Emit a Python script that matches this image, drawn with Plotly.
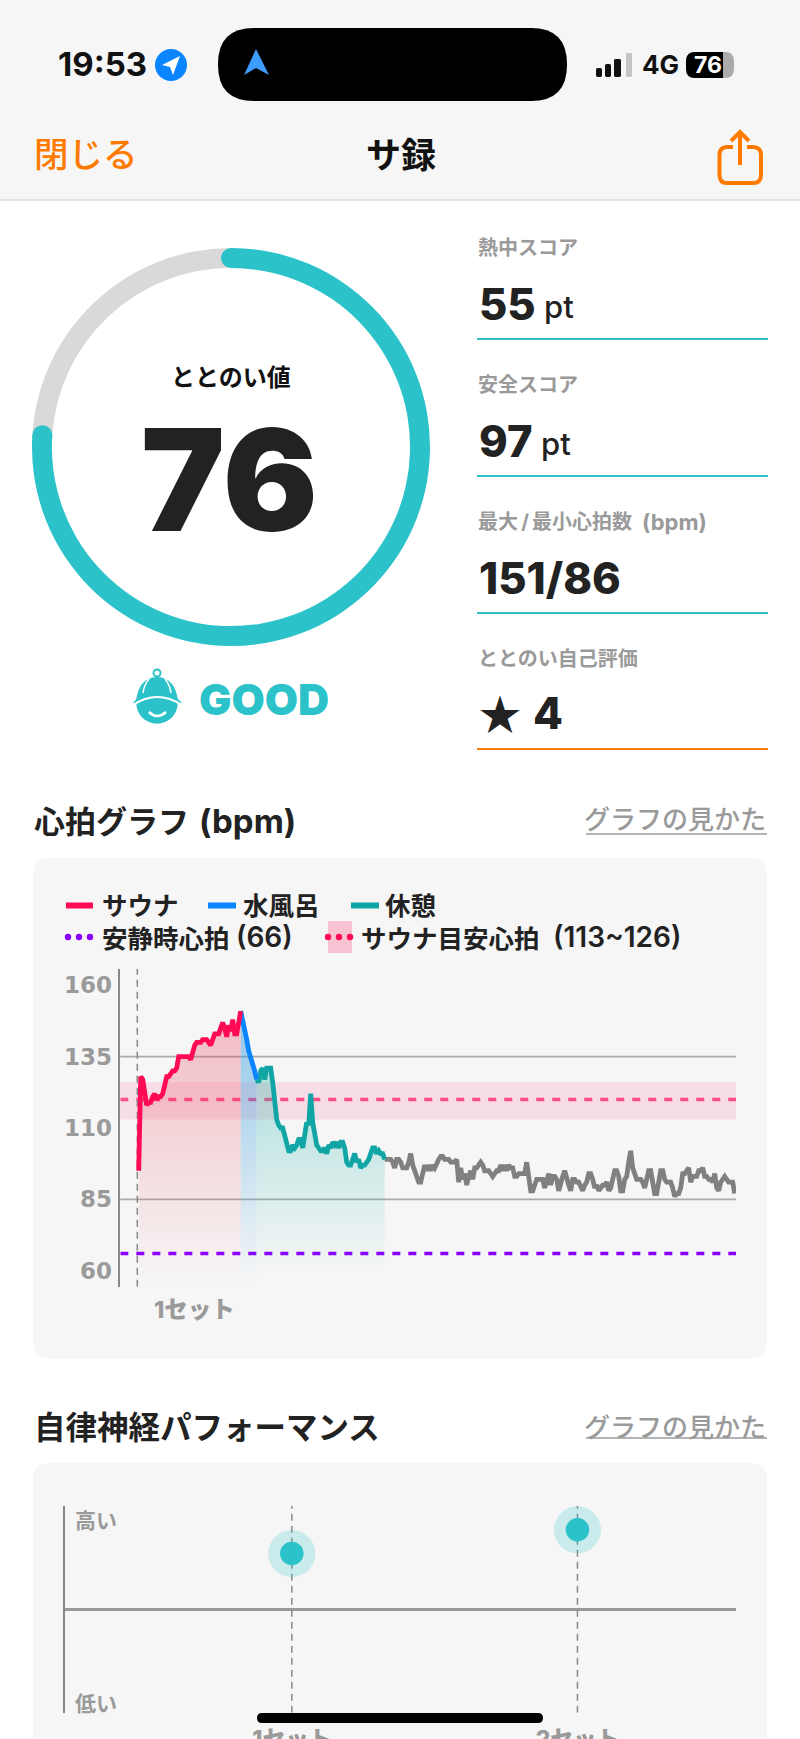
# サ録 screen: gauge, score list, heart-rate graph, autonomic nerve graph
import math
import plotly.graph_objects as go

W, H = 800, 1739
FONT = "Inter, 'Noto Sans CJK JP'"
TEAL = "#2BC2C9"
ORANGE = "#FF7A00"
DARK = "#222222"
GREY = "#9A9A9A"

# gauge
score = 76
score_rest = 24

# heart rate, one value per sample (bpm)
hr_sauna = [95, 128, 127, 122, 118, 119, 119, 121, 122, 120, 121, 121, 122, 125, 128, 128, 129, 130,
            130, 131, 135, 135, 135, 135, 135, 135, 134, 137, 139, 140, 140, 140, 141, 141, 141, 140,
            139, 141, 143, 143, 143, 145, 147, 145, 142, 146, 144, 148, 143, 143, 147, 151]
hr_bath = [151, 148, 144, 141, 137, 135, 133, 130, 127]
hr_rest = [127, 126, 130, 131, 127, 131, 131, 131, 126, 118, 113, 111, 110, 110, 107, 104, 102, 102,
           104, 103, 104, 106, 106, 103, 108, 112, 111, 122, 112, 108, 104, 103, 102, 102, 103, 101,
           104, 103, 105, 104, 105, 103, 105, 105, 103, 98, 97, 97, 99, 101, 98, 99, 96, 97, 97, 98,
           99, 101, 103, 103, 101, 102, 101, 101, 99]
hr_after = [99, 99, 99, 99, 98, 96, 99, 99, 98, 96, 96, 96, 98, 101, 97, 95, 93, 91, 91, 95, 97, 95,
            97, 95, 97, 96, 98, 99, 100, 100, 99, 99, 99, 98, 98, 98, 99, 91, 96, 92, 94, 90, 93, 95,
            92, 96, 96, 97, 98, 97, 95, 95, 95, 94, 93, 94, 95, 95, 97, 95, 97, 95, 97, 96, 96, 93,
            93, 94, 94, 94, 94, 98, 94, 88, 88, 90, 92, 92, 92, 92, 89, 92, 94, 90, 93, 93, 92, 88,
            91, 93, 95, 92, 90, 88, 92, 92, 91, 91, 89, 88, 90, 91, 94, 94, 92, 89, 90, 88, 89, 90,
            90, 91, 88, 89, 92, 95, 95, 93, 88, 88, 92, 93, 98, 102, 96, 94, 92, 92, 92, 91, 89, 92,
            95, 95, 91, 87, 87, 92, 95, 95, 92, 91, 91, 91, 89, 86, 87, 87, 89, 94, 94, 95, 96, 91,
            93, 93, 93, 95, 95, 96, 93, 93, 92, 92, 91, 94, 89, 88, 91, 92, 93, 92, 91, 91, 91, 87]
hr_ticks = [60, 85, 110, 135, 160]
hr_grid = [85, 135]
hr_resting = 66
hr_target = [113, 126]
hr_target_mid = 120
hr_set_start = [-0.7]
hr_set_names = ["1セット"]

# autonomic performance
ans_sets = [1, 2]
ans_names = ["1セット", "2セット"]
ans_values = [0.54, 0.77]

# right-hand list
score_rows = [("熱中スコア", "55", "pt"), ("安全スコア", "97", "pt"), ("最大\u2009/\u2009最小心拍数", "151/86", "")]


def px(x):
    return x / W


def py(y):
    return 1 - y / H


def pth(points, close=True):
    s = "M" + " L".join(f"{px(x):.5f},{py(y):.5f}" for x, y in points)
    return s + (" Z" if close else "")


def rrect(x0, y0, x1, y1, r):
    a, b = r / W, r / H
    l, t, rr, bt = px(x0), py(y0), px(x1), py(y1)
    return (f"M{l + a:.5f},{t:.5f} L{rr - a:.5f},{t:.5f} Q{rr:.5f},{t:.5f} {rr:.5f},{t - b:.5f} "
            f"L{rr:.5f},{bt + b:.5f} Q{rr:.5f},{bt:.5f} {rr - a:.5f},{bt:.5f} "
            f"L{l + a:.5f},{bt:.5f} Q{l:.5f},{bt:.5f} {l:.5f},{bt + b:.5f} "
            f"L{l:.5f},{t - b:.5f} Q{l:.5f},{t:.5f} {l + a:.5f},{t:.5f} Z")


def quad(x0, y0, cx, cy, x1, y1):
    return f"M{px(x0):.5f},{py(y0):.5f} Q{px(cx):.5f},{py(cy):.5f} {px(x1):.5f},{py(y1):.5f}"


def shape_path(path, fill, layer="below", line=None, lw=0):
    fig.add_shape(type="path", path=path, xref="paper", yref="paper", fillcolor=fill, layer=layer,
                  line=dict(color=line or "rgba(0,0,0,0)", width=lw))


def seg(x0, y0, x1, y1, color, width, layer="below", dash=None):
    fig.add_shape(type="line", xref="paper", yref="paper", x0=px(x0), y0=py(y0), x1=px(x1), y1=py(y1),
                  layer=layer, line=dict(color=color, width=width, dash=dash))


def circ(cx, cy, r, fill, layer="above", line=None, lw=0):
    fig.add_shape(type="circle", xref="paper", yref="paper", x0=px(cx - r), x1=px(cx + r),
                  y0=py(cy - r), y1=py(cy + r), fillcolor=fill, layer=layer,
                  line=dict(color=line or "rgba(0,0,0,0)", width=lw))


def text(x, y, s, size, color=DARK, anchor="left", weight=700, family=FONT):
    fig.add_annotation(x=px(x), y=py(y), xref="paper", yref="paper", text=s, showarrow=False,
                       xanchor=anchor, yanchor="middle", borderpad=0,
                       font=dict(size=size, color=color, family=family, weight=weight))


fig = go.Figure()

# --- header ---
shape_path(rrect(0, -20, W, 200, 0), "#F6F6F6")
seg(0, 200, W, 200, "#DDDDDD", 1.5)
text(57, 64, "19:53", 33, "#111111")
circ(171, 65, 16, "#0A84FF")
shape_path(pth([(180, 56), (173, 75), (170, 67), (162, 65)]), "#FFFFFF", "above")
shape_path(rrect(218, 28, 567, 101, 36), "#000000")
shape_path(pth([(256, 49), (269, 75), (256, 68), (244, 75)]), "#3E9BFF", "above")
for (x0, x1, top, col) in [(596, 602, 68, "#111111"), (605, 611, 64, "#111111"),
                           (614, 621, 59, "#111111"), (626, 632, 53, "#C4C4C4")]:
    shape_path(rrect(x0, top, x1, 77, 1.5), col)
text(641, 65, "4G", 26, "#111111")
shape_path(rrect(686, 52, 734, 78, 9), "#ABABAB")
shape_path(rrect(686, 52, 723, 78, 9), "#000000")
shape_path(rrect(712, 52, 723, 78, 0), "#000000")
text(708, 65, "76", 23, "#FFFFFF", "center")
text(33, 155, "閉じる", 34.5, ORANGE, weight=500)
text(401, 155, "サ録", 35, "#111111", "center")
shape_path(f"M{px(733):.5f},{py(147):.5f} L{px(727):.5f},{py(147):.5f} "
           f"Q{px(719.5):.5f},{py(147):.5f} {px(719.5):.5f},{py(155):.5f} "
           f"L{px(719.5):.5f},{py(175):.5f} Q{px(719.5):.5f},{py(183):.5f} {px(727):.5f},{py(183):.5f} "
           f"L{px(753):.5f},{py(183):.5f} Q{px(761):.5f},{py(183):.5f} {px(761):.5f},{py(175):.5f} "
           f"L{px(761):.5f},{py(155):.5f} Q{px(761):.5f},{py(147):.5f} {px(753):.5f},{py(147):.5f} "
           f"L{px(747):.5f},{py(147):.5f}", "rgba(0,0,0,0)", "above", ORANGE, 4)
seg(740, 132, 740, 165, ORANGE, 4, "above")
shape_path(pth([(731, 141), (740, 132), (749, 141)], close=False), "rgba(0,0,0,0)", "above", ORANGE, 4)

# --- gauge ---
fig.add_trace(go.Pie(values=[score, score_rest], sort=False, direction="clockwise", rotation=0, hole=0.9,
                     marker=dict(colors=[TEAL, "#D9D9D9"], line=dict(width=0)), textinfo="none",
                     hoverinfo="skip", showlegend=False,
                     domain=dict(x=[px(32), px(430)], y=[py(646), py(248)])))
ang = 2 * math.pi * score / (score + score_rest)
circ(231, 258, 10, TEAL)
circ(231 + 189 * math.sin(ang), 447 - 189 * math.cos(ang), 10, TEAL)
text(231, 377, "ととのい値", 24, "#111111", "center")
text(230, 480, str(score), 141, DARK, "center", 900)
text(198, 699, "GOOD", 43, TEAL, weight=900)
# hat icon
circ(157, 673, 3.5, "#FFFFFF", "above", TEAL, 2)
circ(157, 703, 20.7, TEAL)
shape_path(quad(136, 702, 138, 678, 157, 677) + f" Q{px(176):.5f},{py(678):.5f} {px(178):.5f},{py(702):.5f} Z",
           TEAL, "above")
shape_path(pth([(133, 703), (140, 695), (174, 695), (182, 703)]), TEAL, "above")
shape_path(quad(133, 705, 157, 689, 182, 705), "rgba(0,0,0,0)", "above", "#FFFFFF", 2)
shape_path(quad(149, 679, 144, 685, 143, 693), "rgba(0,0,0,0)", "above", "#FFFFFF", 1.5)
shape_path(quad(165, 679, 170, 685, 171, 693), "rgba(0,0,0,0)", "above", "#FFFFFF", 1.5)
shape_path(quad(149, 712, 157, 720, 166, 712), "rgba(0,0,0,0)", "above", "#FFFFFF", 2.5)

# --- score list ---
row_y = [248, 385, 522]
unit_x = [543, 540, 0]
for (label, val, unit), y, ux in zip(score_rows, row_y, unit_x):
    text(477, y, label, 20, GREY)
    text(478, y + 56, val, 43.5, DARK, weight=800)
    if unit:
        text(ux, y + 58, unit, 31, DARK, weight=500)
    seg(477, y + 91, 768, y + 91, TEAL, 2)
text(708, 522, "(bpm)", 22, GREY, "right")
text(477, 659, "ととのい自己評価", 20, GREY)
text(478, 711, "★", 42, DARK, family="'Noto Sans CJK JP'")
text(532, 713, "4", 43.5, DARK, weight=800)
seg(477, 749, 768, 749, ORANGE, 2)

# --- heart rate card ---
text(33, 821, "心拍グラフ", 31, DARK)
text(297, 821, "(bpm)", 33, DARK, "right")
text(767, 820, "グラフの見かた", 26, GREY, "right", 500)
seg(586, 834, 767, 834, GREY, 1.5)
shape_path(rrect(33, 858, 767, 1359, 17), "#F6F6F6")

seg(66, 905.5, 93, 905.5, "#FF0A54", 6)
text(101, 906, "サウナ", 25.5)
seg(208, 905.5, 236, 905.5, "#0A84FF", 6)
text(242, 906, "水風呂", 25.5)
seg(351, 905.5, 379, 905.5, "#12A5A5", 6)
text(384, 906, "休憩", 25.5)
for cx in (68, 79, 90):
    circ(cx, 937, 3.2, "#8A00FF")
text(101, 938, "安静時心拍", 25.5)
text(294, 937, "(66)", 28, DARK, "right", 600)
shape_path(rrect(328, 921, 352, 953, 0), "#F7C2D2")
for cx in (328, 339, 350):
    circ(cx, 937, 3.2, "#FF0A54")
text(360, 938, "サウナ目安心拍", 25.5)
text(682, 937, "(113~126)", 28, DARK, "right", 600)

n_sauna = len(hr_sauna)
n_bath = len(hr_bath)
n_rest = len(hr_rest)
x_sauna = list(range(n_sauna))
x_bath = [n_sauna - 1 + i for i in range(n_bath)]
x_rest = [x_bath[-1] + i for i in range(n_rest)]
x_after = [x_rest[-1] + i for i in range(len(hr_after))]
x_lo, x_hi = -9.2, 298.65

fig.add_shape(type="rect", xref="x domain", x0=0, x1=1, yref="y", y0=hr_target[0], y1=hr_target[1],
              fillcolor="rgba(255,10,84,0.10)", line_width=0, layer="below")
for v in hr_grid:
    fig.add_shape(type="line", xref="x domain", x0=0, x1=1, yref="y", y0=v, y1=v, layer="below",
                  line=dict(color="#ABABAB", width=1.8))
for v, col in [(hr_target_mid, "#FF4D85"), (hr_resting, "#8A00FF")]:
    fig.add_trace(go.Scatter(x=[x_lo, x_hi], y=[v, v], mode="lines", hoverinfo="skip", showlegend=False,
                             line=dict(color=col, width=3.5, dash="8px,8px")))
fig.add_trace(go.Scatter(x=hr_set_start * 2, y=[54.35, 165.85], mode="lines", hoverinfo="skip", showlegend=False,
                         line=dict(color="#888888", width=1.5, dash="7px,5px"), cliponaxis=False))
for xs, ys, col, start, stop, alpha in [(x_sauna, hr_sauna, "230,60,80", 151, 55, 0.32),
                                        (x_bath, hr_bath, "40,150,220", 151, 55, 0.50),
                                        (x_rest, hr_rest, "30,180,170", 131, 59, 0.34)]:
    fig.add_trace(go.Scatter(x=xs, y=ys, mode="none", fill="tozeroy", hoverinfo="skip", showlegend=False,
                             fillgradient=dict(type="vertical", start=start, stop=stop,
                                               colorscale=[[0, f"rgba({col},{alpha})"], [1, f"rgba({col},0)"]])))
for xs, ys, col in [(x_after, hr_after, "#808080"), (x_rest, hr_rest, "#12A5A5"),
                    (x_bath, hr_bath, "#0A84FF"), (x_sauna, hr_sauna, "#FF0A54")]:
    fig.add_trace(go.Scatter(x=xs, y=ys, mode="lines", hoverinfo="skip", showlegend=False,
                             line=dict(color=col, width=4.8)))
fig.add_annotation(x=hr_set_start[0], xref="x", xanchor="left", xshift=15, y=py(1309), yref="paper",
                   yanchor="middle", text=hr_set_names[0], showarrow=False,
                   font=dict(size=23.5, color=GREY, family=FONT, weight=800))

# --- autonomic card ---
text(33, 1427, "自律神経パフォーマンス", 31.5, DARK)
text(767, 1427, "グラフの見かた", 26, GREY, "right", 500)
seg(586, 1438, 767, 1438, GREY, 1.5)
shape_path(rrect(33, 1463, 767, H + 40, 17), "#F6F6F6")
for s in ans_sets:
    fig.add_trace(go.Scatter(x=[s, s], y=[-1, 1], xaxis="x2", yaxis="y2", mode="lines", hoverinfo="skip",
                             showlegend=False, line=dict(color="#888888", width=1.5, dash="7px,5px")))
fig.add_trace(go.Scatter(x=ans_sets, y=ans_values, xaxis="x2", yaxis="y2", mode="markers", hoverinfo="skip",
                         showlegend=False, cliponaxis=False,
                         marker=dict(size=47, color="rgba(43,194,201,0.22)", line=dict(width=0))))
fig.add_trace(go.Scatter(x=ans_sets, y=ans_values, xaxis="x2", yaxis="y2", mode="markers", hoverinfo="skip",
                         showlegend=False, cliponaxis=False,
                         marker=dict(size=23.5, color=TEAL, line=dict(width=0))))
text(74, 1520, "高い", 21, GREY)
text(74, 1703, "低い", 21, GREY)
shape_path(rrect(257, 1713, 543, 1723, 5), "#000000", "above")

fig.update_layout(
    width=W,
    height=H,
    margin=dict(l=0, r=0, t=0, b=0),
    paper_bgcolor="#FFFFFF",
    plot_bgcolor="rgba(0,0,0,0)",
    showlegend=False,
    xaxis=dict(domain=[px(120.3), px(736)], range=[x_lo, x_hi], visible=False, fixedrange=True, automargin=False),
    yaxis=dict(domain=[py(1286.7), py(968.7)], range=[54.35, 165.85], tickvals=hr_ticks, showgrid=False,
               zeroline=False, showline=True, linecolor="#888888", linewidth=1.5, ticks="outside", ticklen=2,
               tickcolor="rgba(0,0,0,0)", automargin=False,
               tickfont=dict(size=23, color=GREY, family="DejaVu Sans", weight=700), fixedrange=True),
    xaxis2=dict(domain=[px(65), px(736)], range=[0.206, 2.555], anchor="y2", tickvals=ans_sets, ticktext=ans_names,
                showgrid=False, zeroline=False, showline=False, ticks="outside", ticklen=6, automargin=False,
                tickcolor="rgba(0,0,0,0)", tickfont=dict(size=23, color=GREY, family=FONT, weight=800),
                fixedrange=True),
    yaxis2=dict(domain=[py(1712.7), py(1506)], range=[-1, 1], anchor="x2", showticklabels=False, showgrid=False,
                zeroline=True, zerolinecolor="#999999", zerolinewidth=3, showline=True, linecolor="#888888",
                linewidth=1.5, fixedrange=True, automargin=False),
)

fig.write_html("out.html", config=dict(displayModeBar=False), post_script="document.body.style.margin='0';")
